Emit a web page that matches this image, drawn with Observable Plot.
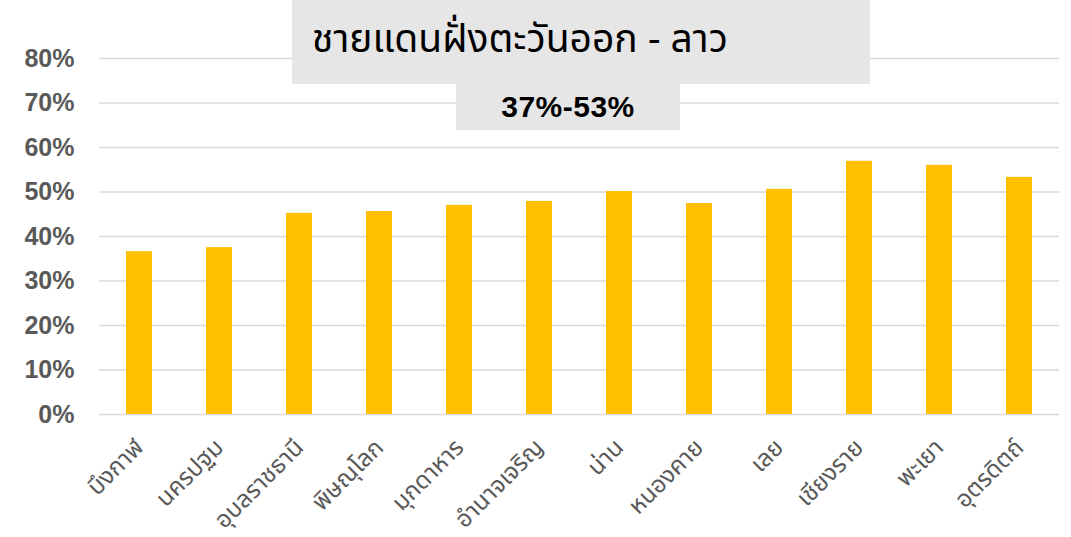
<!DOCTYPE html>
<html><head><meta charset="utf-8">
<script src="https://cdn.jsdelivr.net/npm/d3@7"></script>
<script src="https://cdn.jsdelivr.net/npm/@observablehq/plot@0.6"></script>
<style>
body{margin:0;background:#fff;}
#wrap{position:relative;width:1071px;height:537px;overflow:hidden;}
.box{position:absolute;background:#e6e6e6;color:#000;box-sizing:border-box;}
#t1{left:292px;top:0;width:578px;height:84px;font-family:"Noto Sans Thai","Noto Sans",sans-serif;font-size:39px;padding-left:20px;line-height:82px;}
#t2{left:456px;top:84px;width:224px;height:46px;font-family:"Liberation Sans",Arial,sans-serif;font-weight:bold;font-size:30px;text-align:center;line-height:46px;letter-spacing:0.5px;}
</style></head><body><div id="wrap"></div>
<script>
const provinces = ["บึงกาฬ","นครปฐม","อุบลราชธานี","พิษณุโลก","มุกดาหาร","อำนาจเจริญ","น่าน","หนองคาย","เลย","เชียงราย","พะเยา","อุตรดิตถ์"];
const shares = [0.366,0.375,0.452,0.456,0.470,0.479,0.501,0.474,0.506,0.569,0.560,0.533];
const yTicks = [0,0.1,0.2,0.3,0.4,0.5,0.6,0.7,0.8];
const titleText = "ชายแดนฝั่งตะวันออก - ลาว";
const rangeText = "37%-53%";

const data = provinces.map((p,i)=>({province:p, share:shares[i]}));

const chart = Plot.plot({
  width:1071, height:537,
  marginLeft:99, marginRight:12, marginTop:58, marginBottom:123,
  x:{domain:provinces, paddingInner:0.675, paddingOuter:0.3375, label:null, axis:null},
  y:{domain:[0,0.8], label:null, axis:null},
  marks:[
    Plot.gridY(yTicks,{stroke:"#d9d9d9", strokeOpacity:1, strokeWidth:1.5}),
    Plot.barY(data,{x:"province", y:"share", fill:"#ffc000"}),
    Plot.axisY(yTicks,{tickSize:0, tickPadding:25, tickFormat:d=>Math.round(d*100)+"%", fontSize:25, fontWeight:"bold", fill:"#595959", fontFamily:"Liberation Sans, Arial, sans-serif", label:null}),
    Plot.axisX({tickSize:0, tickPadding:29, tickRotate:-45, fontSize:24, fill:"#595959", fontFamily:"Noto Sans Thai, Noto Sans, sans-serif", label:null})
  ]
});
const wrap = document.getElementById("wrap");
wrap.appendChild(chart);
const b1 = document.createElement("div"); b1.className="box"; b1.id="t1"; b1.textContent=titleText; wrap.appendChild(b1);
const b2 = document.createElement("div"); b2.className="box"; b2.id="t2"; b2.textContent=rangeText; wrap.appendChild(b2);
</script>
</body></html>
